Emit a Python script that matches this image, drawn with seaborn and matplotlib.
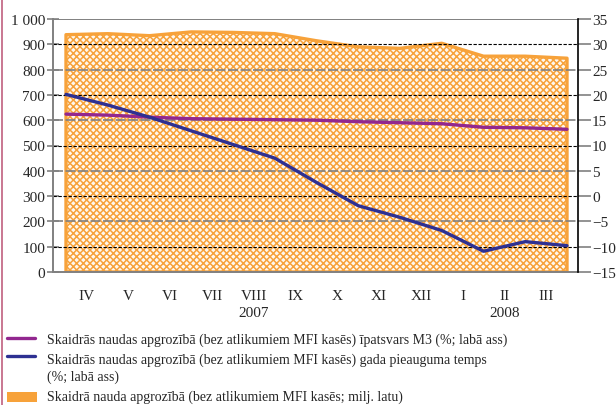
import matplotlib
matplotlib.use("Agg")
import matplotlib.pyplot as plt
import seaborn as sns
import pandas as pd
import numpy as np
from matplotlib.lines import Line2D
from matplotlib.patches import Rectangle

# ---- data ----
months = ["IV", "V", "VI", "VII", "VIII", "IX", "X", "XI", "XII", "I", "II", "III"]
years = ["2007", "2008"]
cash = [938, 942, 934, 949, 947, 942, 914, 890, 884, 904, 853, 853, 845]      # milj. latu (left)
share_m3 = [16.2, 16.0, 15.6, 15.3, 15.2, 15.1, 15.0, 14.7, 14.5, 14.3, 13.6, 13.5, 13.2]  # % (right)
growth = [20.1, 18.0, 15.6, 12.9, 10.2, 7.5, 2.7, -1.9, -4.2, -6.8, -10.9, -9.0, -9.8]    # % (right)
left_ticks = [0, 100, 200, 300, 400, 500, 600, 700, 800, 900, 1000]
left_labels = ["0", "100", "200", "300", "400", "500", "600", "700", "800", "900", "1 000"]
right_ticks = [-15, -10, -5, 0, 5, 10, 15, 20, 25, 30, 35]
right_labels = ["\u221215", "\u221210", "\u22125", "0", "5", "10", "15", "20", "25", "30", "35"]
legend_texts = [
    "Skaidrās naudas apgrozībā (bez atlikumiem MFI kasēs) īpatsvars M3 (%; labā ass)",
    "Skaidrās naudas apgrozībā (bez atlikumiem MFI kasēs) gada pieauguma temps\n(%; labā ass)",
    "Skaidrā nauda apgrozībā (bez atlikumiem MFI kasēs; milj. latu)",
]

df = pd.DataFrame({"x": np.arange(len(cash)), "cash": cash, "share": share_m3, "growth": growth})

sns.set_theme(style="white")
plt.rcParams["font.family"] = ["Liberation Serif", "DejaVu Serif"]
plt.rcParams["hatch.linewidth"] = 1.1
plt.rcParams["hatch.color"] = "#f7a23a"

ORANGE = "#f7a23a"
PURPLE = "#92278f"
BLUE = "#2e3092"
GRAY = "#808080"

W, H = 616, 406
fig = plt.figure(figsize=(W / 100, H / 100), dpi=100)
L, R, T, B = 53, 578, 20, 273
ax = fig.add_axes([L / W, 1 - B / H, (R - L) / W, (B - T) / H])
ax2 = ax.twinx()

# area
ax.fill_between(df["x"], 0, df["cash"], facecolor="#fff8ee", edgecolor=ORANGE,
                hatch="xxxxx", linewidth=2.4, zorder=1)

# gridlines
for v in left_ticks[1:]:
    if v == 1000:
        ax.axhline(v, color=GRAY, lw=1.4, zorder=2)
    elif v % 200 == 0:
        ax.axhline(v, color=GRAY, lw=1.2, ls=(0, (6, 1.5)), zorder=2)
    else:
        ax.axhline(v, color="black", lw=0.8, ls=(0, (3, 1.5)), zorder=2)

ax.set_xlim(-13 / 41.75, 12 + 11 / 41.75)
ax.set_ylim(0, 1000)
ax2.set_ylim(-15, 35)

sns.lineplot(data=df, x="x", y="share", ax=ax2, color=PURPLE, lw=2.4)
sns.lineplot(data=df, x="x", y="growth", ax=ax2, color=BLUE, lw=2.4)

ax.set_yticks(left_ticks)
ax.set_yticklabels(left_labels)
ax2.set_yticks(right_ticks)
ax2.set_yticklabels(right_labels)
ax.set_xticks(np.arange(13))
ax.set_xticklabels([])
ax.set_xticks(np.arange(12) + 0.5, minor=True)
ax.set_xticklabels(months, minor=True)
ax.tick_params(axis="x", which="major", direction="out", length=5, width=1.2, color=GRAY)
ax.tick_params(axis="x", which="minor", length=0, pad=12, labelsize=11)
ax.tick_params(axis="y", direction="inout", length=9, width=1.2, color=GRAY, labelsize=11, pad=1)
ax2.tick_params(axis="y", direction="out", length=9, width=1.2, color=GRAY, labelsize=11, pad=1)
for a in (ax, ax2):
    a.set_xlabel("")
    a.set_ylabel("")
    for s in a.spines.values():
        s.set_visible(False)
ax.spines["left"].set_visible(True)
ax.spines["left"].set_color(GRAY)
ax.spines["left"].set_linewidth(1.4)
ax.spines["bottom"].set_visible(True)
ax.spines["bottom"].set_color(GRAY)
ax.spines["bottom"].set_linewidth(1.4)
ax2.spines["right"].set_visible(True)
ax2.spines["right"].set_color("black")
ax2.spines["right"].set_linewidth(1.2)

# year labels
ax.text(4.5, -0.16, years[0], transform=ax.get_xaxis_transform(), ha="center", va="center", fontsize=11)
ax.text(10.5, -0.16, years[1], transform=ax.get_xaxis_transform(), ha="center", va="center", fontsize=11)

# legend (manual)
def fy(y):
    return 1 - y / H
fig.add_artist(Line2D([7 / W, 35 / W], [fy(339), fy(339)], color=PURPLE, lw=2.4))
fig.add_artist(Line2D([7 / W, 35 / W], [fy(357), fy(357)], color=BLUE, lw=2.4))
fig.add_artist(Rectangle((7 / W, fy(403)), 30 / W, 10 / H, facecolor=ORANGE, edgecolor="none"))
fig.text(47 / W, fy(340), legend_texts[0], ha="left", va="center", fontsize=10)
fig.text(47 / W, fy(368.5), legend_texts[1], ha="left", va="center", fontsize=10, linespacing=1.3)
fig.text(47 / W, fy(397), legend_texts[2], ha="left", va="center", fontsize=10)

# page border line on left
fig.add_artist(Line2D([1.5 / W, 1.5 / W], [0, 1], color="#c0607f", lw=1.2))

fig.savefig("out.png", dpi=100, facecolor="white")
